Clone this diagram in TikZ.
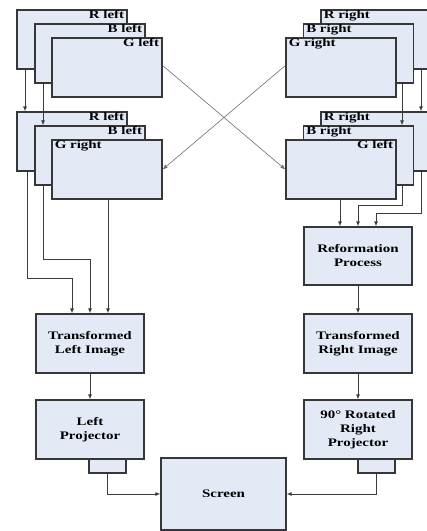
\documentclass[tikz,border=0pt]{standalone}
\usepackage{fontspec}
\setmainfont{Liberation Serif}[FakeStretch=1.3]
\usetikzlibrary{arrows.meta}
\definecolor{boxfill}{RGB}{227,234,245}
\definecolor{boxline}{RGB}{55,55,55}
\definecolor{wire}{RGB}{60,60,60}
\begin{document}
\begin{tikzpicture}[x=1pt,y=-1pt,
  every node/.style={font=\bfseries\fontsize{11.5}{14}\selectfont},
  boxbase/.style={draw=boxline, fill=boxfill, line width=1.2pt, inner sep=0pt},
  stackbox/.style={boxbase, minimum width=110pt, minimum height=59pt},
  mainbox/.style={boxbase, minimum width=108pt, minimum height=59pt, align=center},
  lensbox/.style={boxbase, minimum width=37pt, minimum height=14pt},
  lab/.style={inner sep=1.2pt, font=\bfseries\fontsize{11.5}{13}\selectfont},
  labR/.style={label={[lab,anchor=north east,xshift=-2pt]north east:#1}},
  labL/.style={label={[lab,anchor=north west,xshift=2pt]north west:#1}},
  arr/.style={draw=wire, line width=0.9pt, -{Latex[length=5pt,width=4pt]}},
  xarr/.style={draw=wire!75, line width=0.6pt, -{Latex[length=5pt,width=4pt]}}
]
\useasboundingbox (0,0) rectangle (427,531);
% top-left stack
\node[stackbox, labR={R left}] (RL1) at (72,39.5) {};
\node[stackbox, labR={B left}] (BL1) at (90,53.5) {};
\node[stackbox, labR={G left}] (GL1) at (107,67.5) {};
% second-left stack
\node[stackbox, labR={R left}] (RL2) at (72,141.5) {};
\node[stackbox, labR={B left}] (BL2) at (90,155.5) {};
\node[stackbox, labL={G right}] (GR2) at (107,169.5) {};
% top-right stack
\node[stackbox, labL={R right}] (RR1) at (376,39.5) {};
\node[stackbox, labL={B right}] (BR1) at (358.5,53.5) {};
\node[stackbox, labL={G right}] (GR1) at (341,67.5) {};
% second-right stack
\node[stackbox, labL={R right}] (RR2) at (376,141.5) {};
\node[stackbox, labL={B right}] (BR2) at (358.5,155.5) {};
\node[stackbox, labR={G left}] (GL2) at (341,169.5) {};
% main boxes
\node[mainbox] (TL) at (90,343.5) {Transformed\\Left Image};
\node[mainbox, minimum height=58pt] (RP) at (358,256) {Reformation\\Process};
\node[mainbox] (TR) at (358,343.5) {Transformed\\Right Image};
\node[mainbox] (LP) at (90,429.5) {Left\\Projector};
\node[mainbox] (RPj) at (358,429.5) {90° Rotated\\Right\\Projector};
\node[lensbox] (lensL) at (107.5,466) {};
\node[lensbox] (lensR) at (376.5,466) {};
\node[boxbase, minimum width=125pt, minimum height=72pt] (SC) at (223.5,494) {Screen};
% stack-to-stack arrows
\draw[arr] ([xshift=-47pt]RL1.south) -- ([xshift=-47pt]RL2.north);
\draw[arr] ([xshift=-47pt]BL1.south) -- ([xshift=-47pt]BL2.north);
\draw[arr] ([xshift=45pt]RR1.south) -- ([xshift=45pt]RR2.north);
\draw[arr] ([xshift=43.5pt]BR1.south) -- ([xshift=43.5pt]BR2.north);
% crossing arrows
\draw[xarr] ([yshift=2pt]GL1.east) -- (GL2.west);
\draw[xarr] ([yshift=2pt]GR1.west) -- (GR2.east);
% left stack to transformed left image
\draw[arr] ([xshift=-45pt]RL2.south) -- ++(0,107) -| ([xshift=-18pt]TL.north);
\draw[arr] ([xshift=-47pt]BL2.south) -- ++(0,74) -| (TL.north);
\draw[arr] ([xshift=18pt]TL.north |- GR2.south) -- ([xshift=18pt]TL.north);
% right stack to reformation
\draw[arr] ([xshift=-18pt]RP.north |- GL2.south) -- ([xshift=-18pt]RP.north);
\draw[arr] ([xshift=43.5pt]BR2.south) -- ++(0,20) -| (RP.north);
\draw[arr] ([xshift=45pt]RR2.south) -- ++(0,42) -| ([xshift=18pt]RP.north);
% chains
\draw[arr] (RP) -- (TR);
\draw[arr] (TL) -- (LP);
\draw[arr] (TR) -- (RPj);
\draw[arr] (lensL.south) |- (SC.west);
\draw[arr] (lensR.south) |- (SC.east);
\end{tikzpicture}
\end{document}
